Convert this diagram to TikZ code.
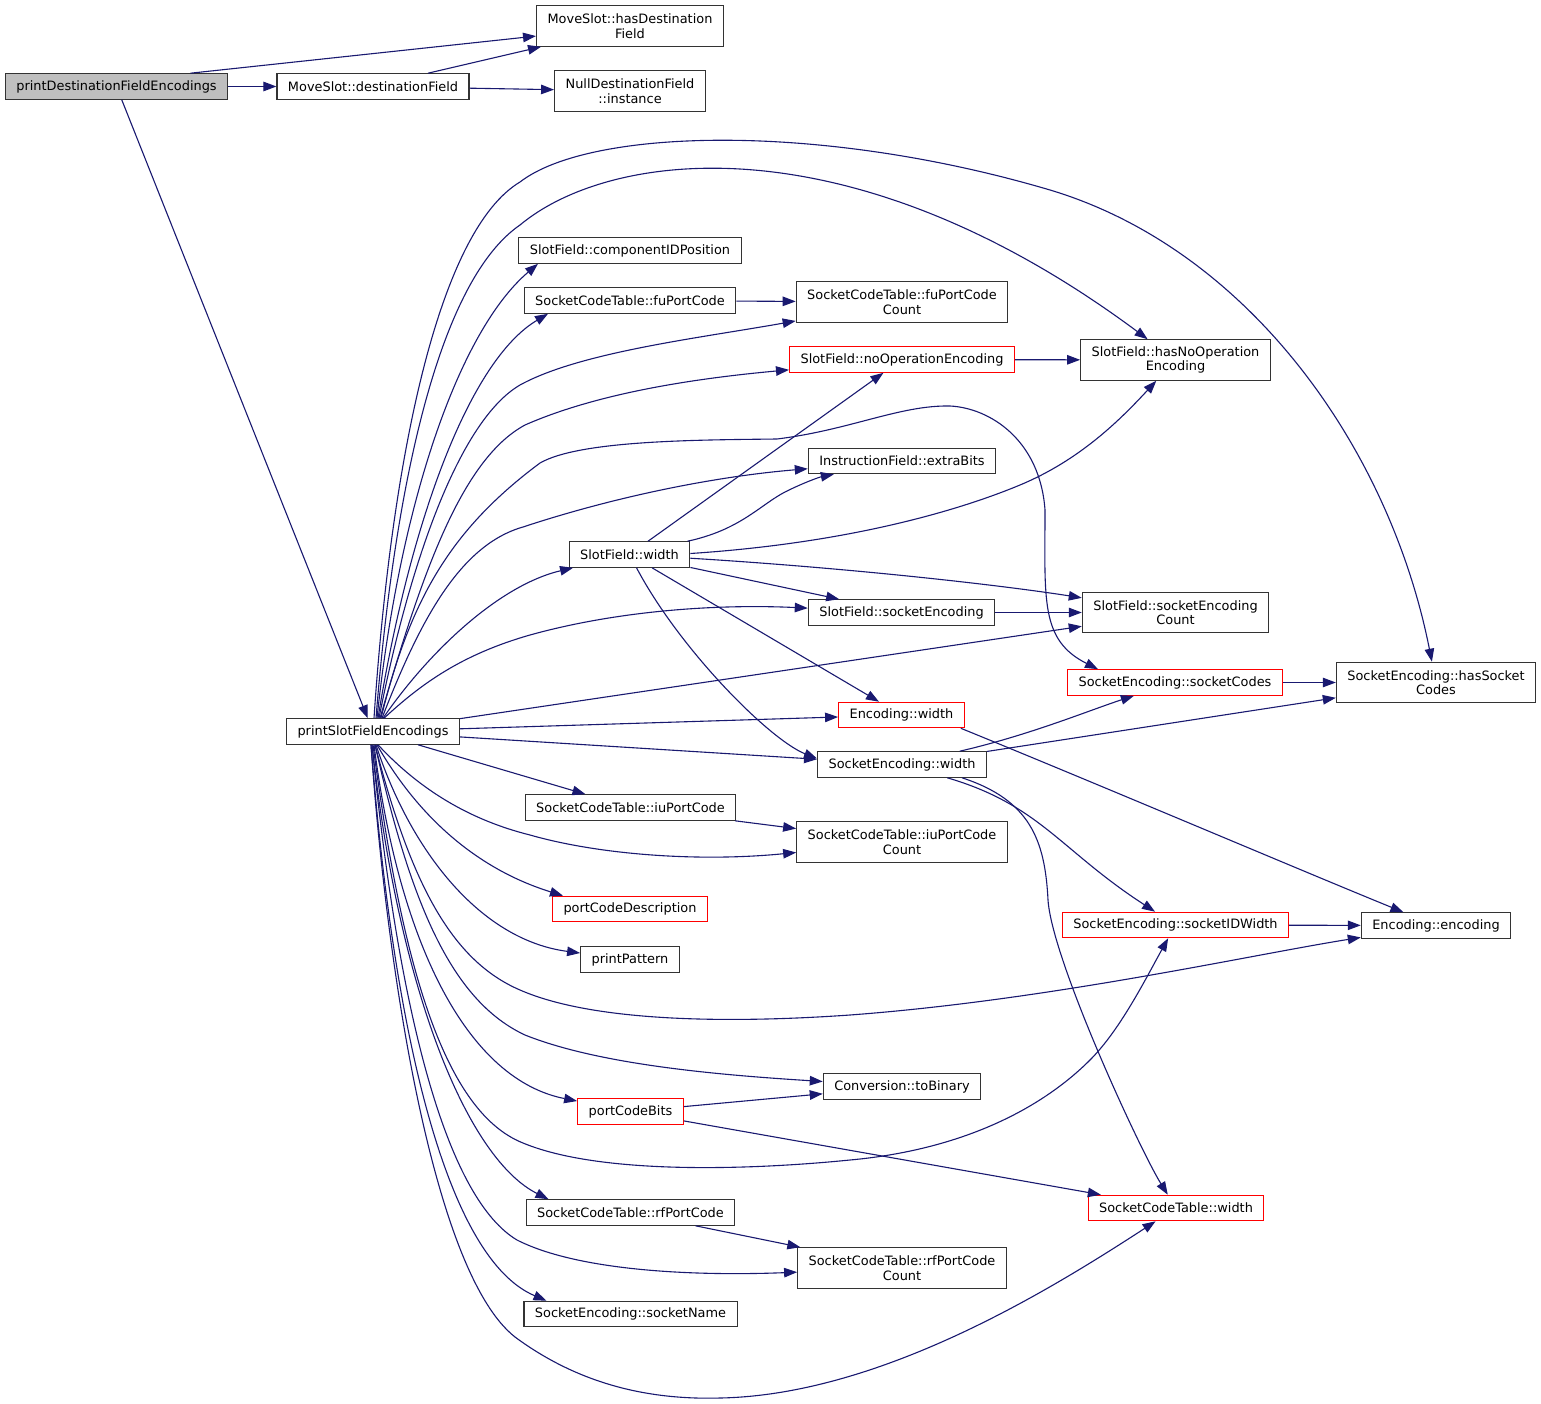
\documentclass[tikz,border=0pt]{standalone}
\usepackage{fontspec}
\setmainfont{DejaVu Sans}
\usetikzlibrary{arrows.meta}
\definecolor{edgeblue}{HTML}{191970}
\definecolor{rootgray}{HTML}{BFBFBF}

\begin{document}
\begin{tikzpicture}[x=1pt,y=-1pt,
  fn/.style={draw=black!80,line width=1.1pt,fill=white,inner xsep=11pt,inner ysep=2pt,
    minimum height=25.5pt,align=center,font=\fontsize{12.9}{14.5}\selectfont},
  fntwo/.style={fn,minimum height=40.5pt},
  hot/.style={draw=red},
  root/.style={fill=rootgray},
  call/.style={draw=edgeblue,line width=1.1pt,-{Triangle[length=13pt,width=9.5pt]}}]
  % page
  \useasboundingbox (0,0) rectangle (1541,1404);
  \fill[white] (0,0) rectangle (1541,1404);
  % draw functions
  \node[fn,root] (pdfe) at (116.5,86.5) {printDestinationFieldEncodings};
  \node[fntwo] (hdf) at (630,26) {MoveSlot::hasDestination\\Field};
  \node[fn] (ds) at (373,86.5) {MoveSlot::destinationField};
  \node[fntwo] (ndfi) at (630,91) {NullDestinationField\\::instance};
  \node[fn] (cidp) at (630,250.5) {SlotField::componentIDPosition};
  \node[fn] (fupc) at (630,300.5) {SocketCodeTable::fuPortCode};
  \node[fntwo] (fupcc) at (902,302) {SocketCodeTable::fuPortCode\\Count};
  \node[fn,hot] (noe) at (902,359.5) {SlotField::noOperationEncoding};
  \node[fntwo] (hnoe) at (1175.5,360) {SlotField::hasNoOperation\\Encoding};
  \node[fn] (eb) at (902,461) {InstructionField::extraBits};
  \node[fn] (sfw) at (629.5,554.5) {SlotField::width};
  \node[fn] (sfse) at (901.5,612.5) {SlotField::socketEncoding};
  \node[fntwo] (sfsec) at (1175.5,612.5) {SlotField::socketEncoding\\Count};
  \node[fn,hot] (sc) at (1175,682.5) {SocketEncoding::socketCodes};
  \node[fntwo] (hsc) at (1436,682.5) {SocketEncoding::hasSocket\\Codes};
  \node[fn] (psfe) at (373,731.5) {printSlotFieldEncodings};
  \node[fn,hot] (ew) at (901.5,715) {Encoding::width};
  \node[fn] (sew) at (902,764.5) {SocketEncoding::width};
  \node[fn] (iupc) at (630.5,807.5) {SocketCodeTable::iuPortCode};
  \node[fntwo] (iupcc) at (902,842) {SocketCodeTable::iuPortCode\\Count};
  \node[fn,hot] (pcd) at (630,909) {portCodeDescription};
  \node[fn,hot] (sidw) at (1175.5,925) {SocketEncoding::socketIDWidth};
  \node[fn] (enc) at (1436,925.5) {Encoding::encoding};
  \node[fn] (pp) at (630,959.5) {printPattern};
  \node[fn] (tb) at (902,1086.5) {Conversion::toBinary};
  \node[fn,hot] (pcb) at (630.5,1111.5) {portCodeBits};
  \node[fn,hot] (sctw) at (1176,1208) {SocketCodeTable::width};
  \node[fn] (rfpc) at (630.5,1212.5) {SocketCodeTable::rfPortCode};
  \node[fntwo] (rfpcc) at (902,1268) {SocketCodeTable::rfPortCode\\Count};
  \node[fn] (sn) at (630.5,1314) {SocketEncoding::socketName};
  % calls of the root
  \draw[call] ([xshift=74pt]pdfe.north) -- (hdf);
  \draw[call] (pdfe) -- (ds);
  \draw[call] (pdfe) -- (psfe);
  \draw[call] ([xshift=55pt]ds.north) -- (hdf);
  \draw[call] (ds) -- (ndfi);
  % calls going up from printSlotFieldEncodings
  \draw[call] ([xshift=1pt]psfe.north) .. controls (392,450) and (440,230) .. (520,182)
    .. controls (590,128) and (820,122) .. (1050,190) .. controls (1250,250) and (1390,450) .. (hsc);
  \draw[call] ([xshift=3pt]psfe.north) .. controls (395,480) and (440,280) .. (520,225)
    .. controls (610,150) and (850,118) .. (hnoe);
  \draw[call] ([xshift=4pt]psfe.north) .. controls (400,500) and (460,330) .. ([xshift=-92pt]cidp.south);
  \draw[call] ([xshift=5pt]psfe.north) .. controls (410,520) and (470,360) .. ([xshift=-82pt]fupc.south);
  \draw[call] ([xshift=6pt]psfe.north) .. controls (410,560) and (460,420) .. (520,385)
    .. controls (580,352) and (700,338) .. (fupcc);
  \draw[call] ([xshift=7pt]psfe.north) .. controls (420,580) and (460,460) .. (525,425)
    .. controls (600,392) and (700,378) .. (noe);
  \draw[call] ([xshift=8pt]psfe.north) .. controls (410,600) and (450,530) .. (540,463)
    .. controls (580,440) and (700,440) .. (777,439) .. controls (850,430) and (900,405) .. (950,406)
    .. controls (990,408) and (1040,440) .. (1045,510) .. controls (1045,600) and (1040,640) .. ([xshift=-77pt]sc.north);
  \draw[call] ([xshift=9pt]psfe.north) .. controls (420,620) and (460,545) .. (523,527)
    .. controls (620,495) and (720,476) .. (eb);
  \draw[call] ([xshift=10pt]psfe.north) .. controls (430,650) and (500,585) .. (sfw);
  \draw[call] ([xshift=11pt]psfe.north) .. controls (420,685) and (460,655) .. (530,635)
    .. controls (620,610) and (720,604) .. (sfse);
  \draw[call] (psfe) -- (sfsec);
  \draw[call] (psfe) -- (ew);
  \draw[call] (psfe) -- (sew);
  % calls going down from printSlotFieldEncodings
  \draw[call] (psfe) -- (iupc);
  \draw[call] ([xshift=5pt]psfe.south) .. controls (420,790) and (470,820) .. (530,835)
    .. controls (600,855) and (700,862) .. (iupcc);
  \draw[call] ([xshift=4pt]psfe.south) .. controls (420,820) and (480,870) .. ([xshift=-67pt]pcd.north);
  \draw[call] ([xshift=3pt]psfe.south) .. controls (410,850) and (480,940) .. (pp);
  \draw[call] ([xshift=2pt]psfe.south) .. controls (410,880) and (450,960) .. (520,990)
    .. controls (600,1025) and (750,1022) .. (850,1015) .. controls (1050,1000) and (1250,955) .. (enc);
  \draw[call] ([xshift=2pt]psfe.south) .. controls (410,900) and (450,1000) .. (525,1035)
    .. controls (600,1065) and (720,1075) .. (tb);
  \draw[call] ([xshift=1pt]psfe.south) .. controls (400,950) and (470,1080) .. (pcb);
  \draw[call] (psfe.south) .. controls (400,950) and (440,1110) .. (523,1143)
    .. controls (600,1175) and (750,1170) .. (850,1160) .. controls (960,1150) and (1040,1110) .. (1090,1060)
    .. controls (1120,1030) and (1145,980) .. (sidw);
  \draw[call] ([xshift=-1pt]psfe.south) .. controls (400,1000) and (470,1160) .. ([xshift=-82pt]rfpc.north);
  \draw[call] ([xshift=-1pt]psfe.south) .. controls (400,1030) and (450,1200) .. (517,1240)
    .. controls (580,1272) and (700,1276) .. (rfpcc);
  \draw[call] ([xshift=-2pt]psfe.south) .. controls (395,1050) and (450,1260) .. ([xshift=-84pt]sn.north);
  \draw[call] ([xshift=-2pt]psfe.south) .. controls (385,950) and (430,1270) .. (515,1337)
    .. controls (580,1385) and (650,1400) .. (720,1398) .. controls (880,1395) and (1050,1290) .. (sctw);
  % calls of SlotField::width
  \draw[call] (sfw) -- (noe);
  \draw[call] ([xshift=58pt]sfw.north) .. controls (740,530) and (760,505) .. (785,492)
    .. controls (805,482) and (820,477) .. (eb);
  \draw[call] ([yshift=1pt]sfw.east) .. controls (850,543) and (960,510) .. (1020,485)
    .. controls (1080,460) and (1120,420) .. (hnoe);
  \draw[call] (sfw) .. controls (850,568) and (1000,585) .. (sfsec);
  \draw[call] (sfw) -- (sfse);
  \draw[call] (sfw) -- (ew);
  \draw[call] (sfw) .. controls (680,650) and (770,740) .. ([yshift=6pt]sew.west);
  % the other calls
  \draw[call] (fupc) -- (fupcc);
  \draw[call] (noe) -- (hnoe);
  \draw[call] (sfse) -- (sfsec);
  \draw[call] (sc) -- (hsc);
  \draw[call] ([xshift=-4pt]ew.south east) .. controls (1100,785) and (1300,870) .. (enc);
  \draw[call] (sew) .. controls (1030,735) and (1090,710) .. (sc);
  \draw[call] (sew) -- (hsc);
  \draw[call] (sew) .. controls (1040,805) and (1060,850) .. (sidw);
  \draw[call] ([xshift=60pt]sew.south) .. controls (1030,800) and (1045,840) .. (1048,900)
    .. controls (1052,960) and (1140,1150) .. (sctw);
  \draw[call] (iupc) -- (iupcc);
  \draw[call] (sidw) -- (enc);
  \draw[call] (pcb) -- (tb);
  \draw[call] (pcb) -- (sctw);
  \draw[call] (rfpc) -- (rfpcc);
\end{tikzpicture}
\end{document}
